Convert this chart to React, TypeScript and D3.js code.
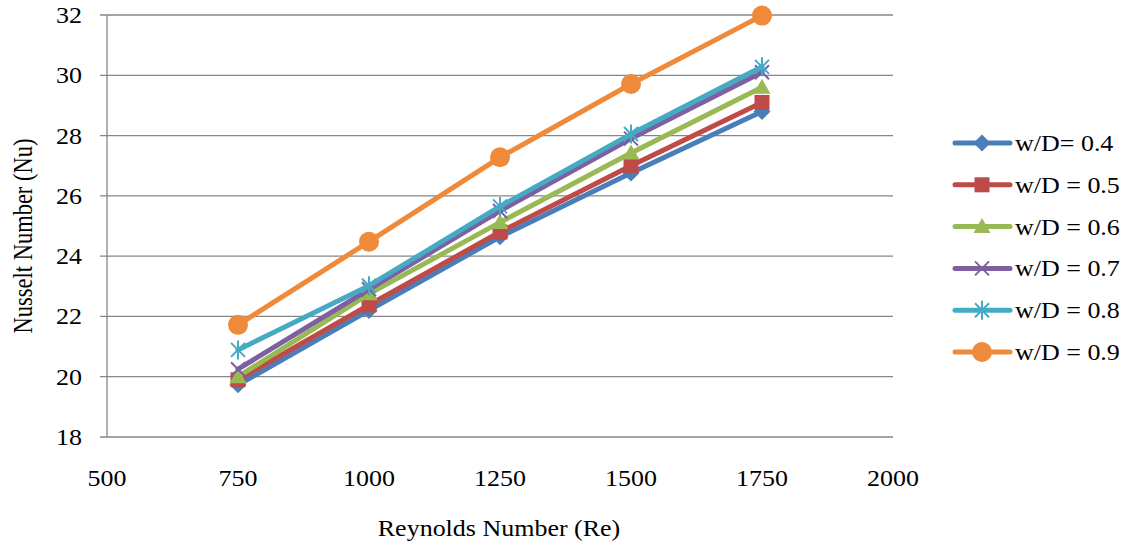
import React from "react";
import * as d3 from "d3";

const reynolds = [750, 1000, 1250, 1500, 1750];
const seriesNames = ["w/D= 0.4", "w/D = 0.5", "w/D = 0.6", "w/D = 0.7", "w/D = 0.8", "w/D = 0.9"];
const nuWD04 = [19.73, 22.2, 24.64, 26.76, 28.8];
const nuWD05 = [19.9, 22.38, 24.8, 27.0, 29.1];
const nuWD06 = [20.0, 22.75, 25.12, 27.42, 29.6];
const nuWD07 = [20.25, 22.9, 25.5, 27.9, 30.1];
const nuWD08 = [20.89, 23.02, 25.65, 28.05, 30.28];
const nuWD09 = [21.72, 24.48, 27.28, 29.71, 31.98];
const xTicks = [500, 750, 1000, 1250, 1500, 1750, 2000];
const yTicks = [18, 20, 22, 24, 26, 28, 30, 32];

const seriesValues = [nuWD04, nuWD05, nuWD06, nuWD07, nuWD08, nuWD09];
const colors = ["#4A7EBB", "#BE4B48", "#98B954", "#7D60A0", "#46AAC5", "#EE8A3A"];
const markers = ["diamond", "square", "triangle", "x", "star", "circle"];

const W = 1134;
const H = 546;
const left = 107;
const right = 893;
const top = 15;
const bottom = 437;
const font = "'Liberation Serif', 'Times New Roman', serif";
const fontSize = 23;
const stretch = 1.13;

const x = d3.scaleLinear().domain([500, 2000]).range([left, right]);
const y = d3.scaleLinear().domain([18, 32]).range([bottom, top]);

function Label({ tx, ty, anchor, children }: { tx: number; ty: number; anchor: string; children: React.ReactNode }) {
  return (
    <text
      transform={`translate(${tx},${ty}) scale(${stretch},1)`}
      dy="0.35em"
      textAnchor={anchor}
      fontSize={fontSize}
      fill="#000"
    >
      {children}
    </text>
  );
}

function Marker({ kind, cx, cy, color }: { kind: string; cx: number; cy: number; color: string }) {
  switch (kind) {
    case "diamond":
      return <path d={`M${cx},${cy - 8.5}L${cx + 8.5},${cy}L${cx},${cy + 8.5}L${cx - 8.5},${cy}Z`} fill={color} />;
    case "square":
      return <rect x={cx - 7.5} y={cy - 7.5} width={15} height={15} fill={color} />;
    case "triangle":
      return <path d={`M${cx},${cy - 8.5}L${cx + 8.5},${cy + 6.5}L${cx - 8.5},${cy + 6.5}Z`} fill={color} />;
    case "x":
      return (
        <path
          d={`M${cx - 7},${cy - 7}L${cx + 7},${cy + 7}M${cx - 7},${cy + 7}L${cx + 7},${cy - 7}`}
          stroke={color}
          strokeWidth={2}
        />
      );
    case "star":
      return (
        <path
          d={`M${cx - 7},${cy - 7}L${cx + 7},${cy + 7}M${cx - 7},${cy + 7}L${cx + 7},${cy - 7}M${cx},${cy - 9.5}L${cx},${cy + 9.5}`}
          stroke={color}
          strokeWidth={2}
        />
      );
    default:
      return <circle cx={cx} cy={cy} r={10} fill={color} />;
  }
}

export default function App() {
  const line = d3
    .line<number>()
    .x((_, i) => x(reynolds[i]))
    .y((d) => y(d));

  const legendX = 955;
  const legendY0 = 143;
  const legendStep = 41.8;

  return (
    <svg
      width={W}
      height={H}
      style={{ position: "absolute", left: 0, top: 0, background: "#fff" }}
      fontFamily={font}
    >
      {/* horizontal gridlines with left tick stubs */}
      {yTicks.map((t) => (
        <line key={t} x1={left - 7} x2={right} y1={y(t)} y2={y(t)} stroke="#868686" strokeWidth={1.3} />
      ))}
      <line x1={left} x2={left} y1={top} y2={bottom} stroke="#868686" strokeWidth={1.3} />

      {yTicks.map((t) => (
        <Label key={t} tx={82} ty={y(t)} anchor="end">
          {t}
        </Label>
      ))}
      {xTicks.map((t) => (
        <Label key={t} tx={x(t)} ty={478} anchor="middle">
          {t}
        </Label>
      ))}

      <Label tx={499} ty={528} anchor="middle">
        Reynolds Number (Re)
      </Label>
      <text
        transform={`translate(23,${(top + bottom) / 2 + 10}) scale(1.2,1) rotate(-90)`}
        dy="0.35em"
        textAnchor="middle"
        fontSize={22.5}
        fill="#000"
      >
        Nusselt Number (Nu)
      </text>

      {seriesValues.map((vals, si) => (
        <g key={si}>
          <path
            d={line(vals) || ""}
            fill="none"
            stroke={colors[si]}
            strokeWidth={5}
            strokeLinejoin="round"
            strokeLinecap="round"
          />
          {vals.map((v, i) => (
            <Marker key={i} kind={markers[si]} cx={x(reynolds[i])} cy={y(v)} color={colors[si]} />
          ))}
        </g>
      ))}

      {seriesNames.map((name, si) => {
        const ly = legendY0 + si * legendStep;
        return (
          <g key={name}>
            <line
              x1={legendX}
              x2={legendX + 55}
              y1={ly}
              y2={ly}
              stroke={colors[si]}
              strokeWidth={5}
              strokeLinecap="round"
            />
            <Marker kind={markers[si]} cx={legendX + 27} cy={ly} color={colors[si]} />
            <Label tx={legendX + 60} ty={ly} anchor="start">
              {name}
            </Label>
          </g>
        );
      })}
    </svg>
  );
}
